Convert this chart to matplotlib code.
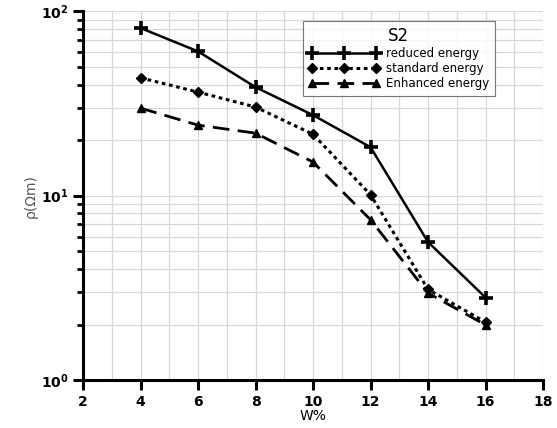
import matplotlib
matplotlib.use("Agg")
import matplotlib.pyplot as plt
from matplotlib.ticker import LogLocator, MultipleLocator, NullFormatter

w = [4, 6, 8, 10, 12, 14, 16]
reduced = [81, 60.5, 38.7, 27.3, 18.3, 5.6, 2.8]
standard = [43.5, 36.4, 30.2, 21.5, 10.1, 3.1, 2.06]
enhanced = [29.8, 24.1, 21.8, 15.2, 7.4, 2.96, 1.99]

fig = plt.figure(figsize=(5.57, 4.28), dpi=100)
ax = fig.add_axes([0.149, 0.112, 0.826, 0.862])
ax.set_yscale('log')
ax.set_xlim(2, 18)
ax.set_ylim(1, 100)

ax.plot(w, reduced, '-', color='black', lw=1.8, marker='+', ms=10, mew=2.6, label='reduced energy')
ax.plot(w, standard, color='black', lw=2.2, linestyle=(0, (1.2, 1.2)), marker='D', ms=5, label='standard energy')
ax.plot(w, enhanced, color='black', lw=2.0, linestyle=(0, (6, 3)), marker='^', ms=6, label='Enhanced energy')

ax.xaxis.set_major_locator(MultipleLocator(2))
ax.xaxis.set_minor_locator(MultipleLocator(1))
ax.yaxis.set_major_locator(LogLocator(base=10))
ax.yaxis.set_minor_locator(LogLocator(base=10, subs=range(2, 10)))
ax.yaxis.set_minor_formatter(NullFormatter())

ax.grid(True, which='both', color='#d8d8d8', lw=0.9)
ax.set_axisbelow(True)
for s in ['top', 'right']:
    ax.spines[s].set_visible(False)
for s in ['left', 'bottom']:
    ax.spines[s].set_linewidth(2.2)
ax.tick_params(which='major', direction='out', length=7, width=2.2, labelsize=10)
ax.tick_params(which='minor', direction='out', length=4, width=2.0)
ax.tick_params(axis='x', which='minor', length=0)
for lab in ax.get_xticklabels() + ax.get_yticklabels():
    lab.set_fontweight('bold')

ax.set_xlabel('W%', fontsize=10, labelpad=0)
ax.set_ylabel('ρ(Ωm)', fontsize=10, color='#555555', labelpad=2)

leg = ax.legend(title='S2', loc='upper left', bbox_to_anchor=(0.478, 0.972), fontsize=8.5,
                title_fontsize=12, frameon=True, fancybox=False, edgecolor='#555555',
                numpoints=3, handlelength=6.0, handletextpad=0.5, labelspacing=0.15,
                borderpad=0.5, borderaxespad=0)
leg.get_frame().set_linewidth(0.8)

fig.savefig('out.png', dpi=100)
